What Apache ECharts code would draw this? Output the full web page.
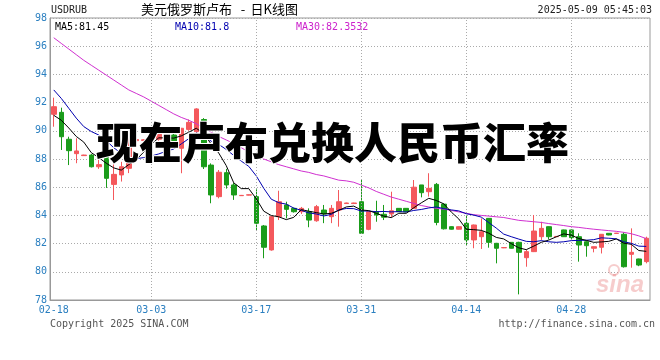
<!DOCTYPE html>
<html><head><meta charset="utf-8">
<script src="https://cdn.jsdelivr.net/npm/echarts@6/dist/echarts.min.js"></script>
<style>html,body{margin:0;padding:0;background:#fff}#c{width:660px;height:360px}</style>
</head><body><div id="c"></div>
<script>
// ---- data ----
const dates = ['02-18','02-19','02-20','02-21','02-22','02-23','02-24','02-25','02-26','02-27','02-28',
'03-01','03-02','03-03','03-04','03-05','03-06','03-07','03-08','03-09','03-10','03-11','03-12','03-13','03-14','03-15','03-16','03-17','03-18','03-19','03-20','03-21','03-22','03-23','03-24','03-25','03-26','03-27','03-28','03-29','03-30','03-31',
'04-01','04-02','04-03','04-04','04-05','04-06','04-07','04-08','04-09','04-10','04-11','04-12','04-13','04-14','04-15','04-16','04-17','04-18','04-19','04-20','04-21','04-22','04-23','04-24','04-25','04-26','04-27','04-28','04-29','04-30',
'05-01','05-02','05-03','05-04','05-05','05-06','05-07','05-08'];
const openP = [91.17,91.31,89.40,88.38,88.24,88.28,87.45,88.10,86.20,86.87,
87.34,89.30,89.32,89.36,89.40,89.75,89.70,88.76,90.10,89.94,
90.80,87.57,85.33,87.03,86.16,85.40,85.44,85.33,83.25,81.55,
83.91,84.74,84.50,84.26,84.26,83.62,84.38,83.91,84.38,84.84,
84.84,84.97,83.01,84.26,84.08,84.10,84.50,84.50,84.50,86.16,
85.68,86.20,84.80,83.20,83.02,83.44,82.26,82.49,83.79,82.02,
81.70,82.09,82.09,81.00,81.43,82.49,83.20,82.49,82.97,82.97,
82.49,82.13,81.67,81.74,82.73,82.72,82.66,81.24,80.91,80.72];
const closeP = [91.71,89.58,88.59,88.57,88.28,87.45,87.60,86.63,86.91,87.45,
89.40,89.38,89.36,89.70,89.75,89.35,89.23,90.18,90.60,91.55,
87.45,85.45,87.06,86.16,85.45,85.42,85.46,83.44,81.74,83.91,
84.97,84.43,84.26,84.50,83.67,84.62,84.10,84.50,84.97,84.88,
84.88,82.73,84.26,84.03,83.87,84.33,84.26,84.26,86.00,85.61,
85.92,83.50,83.05,83.02,83.20,82.26,83.32,82.84,82.09,81.67,
81.72,81.67,81.38,81.43,82.89,83.08,82.49,82.51,82.49,82.42,
81.90,81.85,81.78,82.66,82.61,82.74,80.36,81.38,80.48,82.38];
const lowP = [90.29,88.64,87.57,87.70,88.22,87.40,87.30,85.95,85.09,86.40,
87.00,89.25,89.30,89.10,89.30,89.10,89.10,86.99,90.00,89.80,
87.29,84.86,85.21,85.90,85.10,85.38,85.42,82.96,80.96,81.50,
83.67,83.79,84.20,84.10,83.16,83.55,83.45,83.45,83.20,84.82,
84.82,82.68,82.95,83.55,83.67,83.87,84.24,84.24,84.45,85.28,
85.33,83.30,83.00,83.00,83.00,81.90,81.67,81.62,81.71,80.60,
81.68,81.65,78.40,80.36,81.40,82.26,82.30,82.47,82.47,82.30,
80.72,81.07,81.38,81.30,82.59,82.70,80.30,80.29,80.40,80.60];
const highP = [92.35,91.64,89.58,89.47,88.30,88.35,88.00,88.30,87.69,87.80,
89.60,89.45,89.40,90.10,90.00,89.90,90.29,90.20,90.80,91.60,
90.90,87.69,87.22,87.30,86.30,85.45,85.48,85.85,83.32,83.95,
85.75,84.97,84.55,84.60,84.50,84.74,84.74,84.74,85.80,84.90,
84.90,86.51,84.30,85.04,84.74,85.68,84.52,84.52,86.51,86.16,
86.99,86.30,84.85,83.22,83.22,84.03,83.35,83.79,83.80,82.05,
81.74,82.10,82.13,81.55,84.03,83.55,83.22,82.53,82.99,83.00,
82.73,82.18,81.80,82.68,82.75,82.76,82.80,83.08,80.93,82.49];
const ma5 = [91.1,90.75,90.2,89.6,89.2,88.45,88.1,87.7,87.37,87.21,
87.6,87.95,88.49,89.05,89.5,89.5,89.48,89.64,89.9,90.18,
89.8,89.05,88.42,87.53,86.31,85.9,85.9,85.18,84.3,83.99,
83.9,83.7,83.86,84.41,84.3,84.2,84.1,84.15,84.35,84.6,
84.66,84.38,84.34,84.15,83.95,83.84,84.15,84.15,84.54,84.89,
85.21,85.06,84.82,84.24,83.75,83.02,82.99,82.94,82.74,82.44,
82.33,82.0,81.7,81.57,81.82,82.09,82.25,82.48,82.69,82.6,
82.36,82.23,82.09,82.12,82.16,82.33,82.03,81.95,81.51,81.45];
const ma10 = [92.9,92.3,91.6,90.9,90.3,89.95,89.7,89.3,88.8,88.4,
88.05,88.02,88.1,88.21,88.36,88.55,88.71,89.07,89.44,89.85,
89.65,89.26,89.03,88.68,88.25,87.85,87.48,86.8,85.92,85.15,
84.9,84.8,84.52,84.36,84.18,84.1,83.96,84.07,84.39,84.49,
84.48,84.31,84.31,84.26,84.28,84.25,84.27,84.24,84.35,84.42,
84.53,84.6,84.48,84.39,84.32,84.12,84.02,83.88,83.49,83.1,
82.67,82.49,82.32,82.16,82.13,82.21,82.13,82.09,82.13,82.21,
82.23,82.24,82.28,82.41,82.38,82.34,82.13,82.02,81.82,81.8];
const ma30 = [96.6,96.2,95.8,95.4,95.0,94.65,94.3,93.95,93.6,93.25,
92.9,92.65,92.4,92.1,91.8,91.5,91.2,90.95,90.75,90.5,
90.2,89.9,89.6,89.35,89.1,88.8,88.5,88.25,88.0,87.8,
87.6,87.45,87.3,87.15,87.05,86.9,86.8,86.65,86.5,86.45,
86.35,86.15,85.95,85.7,85.5,85.3,85.15,85.0,84.85,84.7,
84.6,84.5,84.45,84.35,84.25,84.15,84.05,84.0,83.95,83.9,
83.85,83.75,83.65,83.6,83.55,83.5,83.42,83.35,83.28,83.2,
83.15,83.08,83.02,82.97,82.92,82.87,82.8,82.7,82.55,82.35];
const labelDates = ['02-18','03-03','03-17','03-31','04-14','04-28'];
const gridDates = ['03-03','03-17','03-31','04-14','04-28'];
const symbolName = 'USDRUB';
const titleText = '美元俄罗斯卢布 - 日K线图';
const stampText = '2025-05-09 05:45:03';
const maLabels = ['MA5:81.45','MA10:81.8','MA30:82.3532'];
const overlayText = '现在卢布兑换人民币汇率';
const copyText = 'Copyright 2025 SINA.COM';
const urlText = 'http://finance.sina.com.cn';

// ---- chart ----
const UP = '#f4585c', DOWN = '#1a9c1a';
const MONO = '"DejaVu Sans Mono", monospace';
const CJK = '"Noto Sans CJK SC"';
const AXC = '#2a7fc0';
const kData = dates.map((d, i) => [openP[i], closeP[i], lowP[i], highP[i]]);
const titleParts = titleText.split(' - ');
const chart = echarts.init(document.getElementById('c'), null, {renderer: 'canvas'});
chart.setOption({
  animation: false,
  backgroundColor: '#fff',
  grid: {left: 50, right: 10, top: 18, bottom: 60, show: true, borderColor: '#999', borderWidth: 1},
  xAxis: {
    type: 'category', data: dates, boundaryGap: true,
    axisLine: {show: true, lineStyle: {color: '#999'}},
    axisTick: {show: false},
    splitLine: {show: false},
    axisLabel: {
      interval: (idx, val) => labelDates.includes(val),
      color: AXC, fontFamily: MONO, fontSize: 10, margin: 5
    }
  },
  yAxis: {
    type: 'value', min: 78, max: 98, interval: 2,
    axisLine: {show: true, lineStyle: {color: '#999'}},
    axisTick: {show: false},
    axisLabel: {color: AXC, fontFamily: MONO, fontSize: 10, margin: 3, padding: [0, 0, 3, 0]},
    splitLine: {show: true, lineStyle: {type: [1, 2], color: '#aaa', width: 1}}
  },
  series: [
    {
      type: 'candlestick', data: kData, barWidth: 5,
      itemStyle: {color: UP, color0: DOWN, borderColor: UP, borderColor0: DOWN, borderWidth: 1},
      markLine: {
        silent: true, symbol: ['none', 'none'], label: {show: false},
        lineStyle: {type: [1, 2], color: '#aaa', width: 1},
        emphasis: {disabled: true},
        data: gridDates.map(d => ({xAxis: d}))
      }
    },
    {type: 'line', data: ma30, symbol: 'none', lineStyle: {color: '#d030d0', width: 1}, silent: true},
    {type: 'line', data: ma10, symbol: 'none', lineStyle: {color: '#0000b0', width: 1}, silent: true},
    {type: 'line', data: ma5, symbol: 'none', lineStyle: {color: '#000', width: 1}, silent: true}
  ],
  graphic: [
    {type: 'text', x: 51, y: 10, style: {text: symbolName, font: '10px ' + MONO, fill: '#222', verticalAlign: 'middle'}},
    {type: 'text', x: 141, y: 9, style: {text: titleParts[0], font: '13px ' + CJK, fill: '#000', verticalAlign: 'middle'}},
    {type: 'text', x: 243, y: 9, style: {text: '-', font: '13px ' + CJK, fill: '#000', align: 'center', verticalAlign: 'middle'}},
    {type: 'text', x: 298, y: 9, style: {text: titleParts[1], font: '13px ' + CJK, fill: '#000', align: 'right', verticalAlign: 'middle'}},
    {type: 'text', x: 652, y: 10, style: {text: stampText, font: '10px ' + MONO, fill: '#222', align: 'right', verticalAlign: 'middle'}},
    {type: 'text', x: 55, y: 27, z: 50, style: {text: maLabels[0], font: '10px ' + MONO, fill: '#000', verticalAlign: 'middle'}},
    {type: 'text', x: 175, y: 27, z: 50, style: {text: maLabels[1], font: '10px ' + MONO, fill: '#0000b0', verticalAlign: 'middle'}},
    {type: 'text', x: 296, y: 27, z: 50, style: {text: maLabels[2], font: '10px ' + MONO, fill: '#cc22cc', verticalAlign: 'middle'}},
    {type: 'text', x: 50, y: 324, style: {text: copyText, font: '10px ' + MONO, fill: '#555', verticalAlign: 'middle'}},
    {type: 'text', x: 655, y: 324, style: {text: urlText, font: '10px ' + MONO, fill: '#555', align: 'right', verticalAlign: 'middle'}},
    {type: 'circle', z: 1, shape: {cx: 614, cy: 270, r: 5}, style: {fill: 'none', stroke: 'rgba(230,110,110,0.35)', lineWidth: 2}},
    {type: 'text', x: 596, y: 285, z: 1, style: {text: 'sina', font: 'italic bold 24px "Liberation Sans"', fill: 'rgba(230,110,110,0.35)', verticalAlign: 'middle'}},
    {type: 'text', x: 96, y: 143, z: 100, style: {text: overlayText, font: '900 43px ' + CJK, fill: '#000', stroke: '#fff', lineWidth: 2, verticalAlign: 'middle'}}
  ]
});
</script></body></html>
